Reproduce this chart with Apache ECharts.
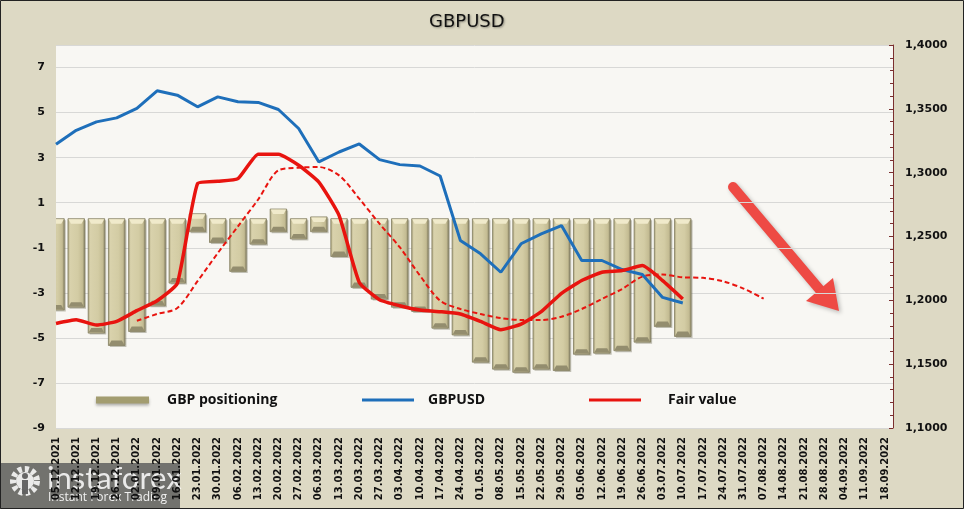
<!DOCTYPE html>
<html>
<head>
<meta charset="utf-8">
<script src="https://cdn.jsdelivr.net/npm/echarts@6/dist/echarts.min.js"></script>
<style>
html,body{margin:0;padding:0;background:#DDD9C4;}
#chart{width:964px;height:509px;}
</style>
</head>
<body>
<div id="chart"></div>
<script>
const categories = ['05.12.2021','12.12.2021','19.12.2021','26.12.2021','02.01.2022','09.01.2022','16.01.2022','23.01.2022','30.01.2022','06.02.2022','13.02.2022','20.02.2022','27.02.2022','06.03.2022','13.03.2022','20.03.2022','27.03.2022','03.04.2022','10.04.2022','17.04.2022','24.04.2022','01.05.2022','08.05.2022','15.05.2022','22.05.2022','29.05.2022','05.06.2022','12.06.2022','19.06.2022','26.06.2022','03.07.2022','10.07.2022','17.07.2022','24.07.2022','31.07.2022','07.08.2022','14.08.2022','21.08.2022','28.08.2022','04.09.2022','11.09.2022','18.09.2022'];

const gbpPositioning = [-3.47,-3.35,-4.50,-5.05,-4.43,-3.29,-2.28,0.22,-0.48,-1.76,-0.55,0.43,-0.32,0.08,-1.10,-2.47,-2.99,-3.35,-3.54,-4.28,-4.58,-5.79,-6.10,-6.24,-6.10,-6.16,-5.44,-5.39,-5.28,-4.90,-4.21,-4.65];

const gbpusd = [1.3222,1.3332,1.3398,1.3429,1.3503,1.3641,1.3607,1.3516,1.3594,1.3555,1.3550,1.3495,1.3346,1.3084,1.3162,1.3225,1.3102,1.3063,1.3052,1.2974,1.2469,1.2364,1.2220,1.2443,1.2521,1.2586,1.2312,1.2312,1.2241,1.2202,1.2023,1.1979];

const fairValue = [1.1819,1.1848,1.1806,1.1835,1.1919,1.1997,1.2133,1.2914,1.2932,1.2953,1.3144,1.3144,1.3058,1.2926,1.2665,1.2140,1.2005,1.1958,1.1924,1.1911,1.1893,1.1835,1.1770,1.1814,1.1911,1.2055,1.2155,1.2220,1.2233,1.2272,1.2155,1.2011];

const fairTrend = [null,null,null,null,1.1840,1.1893,1.1940,1.2150,1.2370,1.2580,1.2790,1.3018,1.3039,1.3044,1.2979,1.2796,1.2600,1.2416,1.2194,1.1997,1.1932,1.1893,1.1861,1.1846,1.1846,1.1872,1.1932,1.2011,1.2089,1.2186,1.2202,1.2180,1.2176,1.2149,1.2092,1.2013];

const leftTicks = {min:-9, max:8, interval:2};
const rightTicks = {min:1.1, max:1.4, interval:0.05};

const chart = echarts.init(document.getElementById('chart'), null, {renderer:'canvas'});

const barFill = new echarts.graphic.LinearGradient(0,0,1,0,[
  {offset:0,color:'#A49D76'},{offset:0.14,color:'#D9D2AC'},{offset:0.6,color:'#D3CCA4'},{offset:0.86,color:'#C4BC93'},{offset:1,color:'#8A8466'}
]);

function renderBar(params, api){
  const i = api.value(0), v = api.value(1);
  const base = api.coord([i, 0]);
  const end = api.coord([i, v]);
  const w = 16.5, ext = 6.5;
  const x = base[0] - w/2;
  let top, bot;
  if (v < 0) { top = base[1] - ext; bot = end[1] + ext; }
  else { top = end[1] - ext; bot = base[1] + ext; }
  const h = bot - top;
  return {
    type:'group',
    children:[
      {type:'rect', shape:{x:x+1.5, y:top+1.5, width:w, height:h}, style:{fill:'rgba(90,85,60,0.35)'}},
      {type:'rect', shape:{x:x, y:top, width:w, height:h}, style:{fill:barFill, stroke:'#827C5E', lineWidth:0.8}},
      {type:'polygon', shape:{points:[[x+0.5,top+0.5],[x+w-0.5,top+0.5],[x+w-3,top+5],[x+3,top+5]]}, style:{fill:'#F0EACB'}},
      {type:'polygon', shape:{points:[[x+3,bot-5],[x+w-3,bot-5],[x+w-0.5,bot-0.5],[x+0.5,bot-0.5]]}, style:{fill:'#938D6E'}}
    ]
  };
}

const legendText = {fontFamily:'Open Sans', fontWeight:'bold', fontSize:14, color:'#111'};

const option = {
  backgroundColor:'#DDD9C4',
  animation:false,
  title:{
    text:'GBPUSD', left:424, top:8,
    textStyle:{fontFamily:'DejaVu Sans', fontWeight:'normal', fontSize:18, color:'#111',
      textShadowColor:'rgba(0,0,0,0.35)', textShadowBlur:2, textShadowOffsetX:1, textShadowOffsetY:1}
  },
  legend:[
    {data:['GBP positioning'], left:96, top:393, padding:0, itemWidth:53, itemHeight:7, icon:'rect', selectedMode:false,
      itemStyle:{color:'#A39D70', shadowColor:'rgba(0,0,0,0.3)', shadowBlur:3, shadowOffsetY:2},
      textStyle:Object.assign({padding:[0,0,0,13]}, legendText)},
    {data:['GBPUSD'], left:362, top:393, padding:0, itemWidth:52, itemHeight:3, icon:'rect', selectedMode:false,
      textStyle:Object.assign({padding:[0,0,0,9]}, legendText)},
    {data:['Fair value'], left:589, top:393, padding:0, itemWidth:52, itemHeight:3, icon:'rect', selectedMode:false,
      textStyle:Object.assign({padding:[0,0,0,22]}, legendText)}
  ],
  grid:[
    {left:56, right:79, top:45, bottom:81, show:false},
    {left:56, right:71, top:45, bottom:81, show:true, backgroundColor:'#F8F7F3', borderWidth:0, z:-1}
  ],
  xAxis:[
    {type:'category', gridIndex:0, data:categories, boundaryGap:false,
      axisLine:{show:false}, axisTick:{show:false}, splitLine:{show:false},
      axisLabel:{interval:0, rotate:90, margin:9, fontFamily:'DejaVu Sans', fontWeight:'bold', fontSize:10, color:'#111'}},
    {type:'category', gridIndex:1, data:categories, show:false}
  ],
  yAxis:[
    {type:'value', gridIndex:0, min:leftTicks.min, max:leftTicks.max, interval:leftTicks.interval,
      axisLine:{show:false}, axisTick:{show:false}, splitLine:{show:false},
      axisLabel:{margin:11, fontFamily:'DejaVu Sans', fontWeight:'bold', fontSize:11, color:'#111',
        formatter:function(v){ return v === leftTicks.max ? '' : String(v); }}},
    {type:'value', gridIndex:0, position:'right', offset:8, min:rightTicks.min, max:rightTicks.max, interval:rightTicks.interval,
      axisLine:{show:true, lineStyle:{color:'#7A2E2E', width:1}},
      axisTick:{show:true, inside:true, length:4, lineStyle:{color:'#7A2E2E'}},
      minorTick:{show:true, splitNumber:5, length:3, lineStyle:{color:'#7A2E2E'}},
      splitLine:{show:false},
      axisLabel:{margin:12, fontFamily:'DejaVu Sans', fontWeight:'bold', fontSize:11, color:'#111',
        formatter:function(v){ return v.toFixed(4).replace('.', ','); }}},
    {type:'value', gridIndex:1, min:leftTicks.min, max:leftTicks.max, interval:leftTicks.interval,
      axisLine:{show:false}, axisTick:{show:false}, axisLabel:{show:false},
      splitLine:{show:true, lineStyle:{color:'#D8D8D6', width:1}}}
  ],
  series:[
    {name:'GBP positioning', type:'custom', xAxisIndex:0, yAxisIndex:0, clip:true,
      itemStyle:{color:'#A39D70'},
      renderItem:renderBar, encode:{x:0, y:1},
      data:gbpPositioning.map(function(v,i){ return [i, v]; }), z:2},
    {name:'Fair value trend', type:'line', xAxisIndex:0, yAxisIndex:1, data:fairTrend,
      showSymbol:false, smooth:0.3, connectNulls:false,
      lineStyle:{color:'#E8140F', width:2, type:[5,3]}, itemStyle:{color:'#E8140F'}, z:3},
    {name:'GBPUSD', type:'line', xAxisIndex:0, yAxisIndex:1, data:gbpusd,
      showSymbol:false, lineStyle:{color:'#1E6FBA', width:3}, itemStyle:{color:'#1E6FBA'}, z:4},
    {name:'Fair value', type:'line', xAxisIndex:0, yAxisIndex:1, data:fairValue,
      showSymbol:false, smooth:0.15, lineStyle:{color:'#E8140F', width:3.5}, itemStyle:{color:'#E8140F'}, z:5}
  ],
  graphic:[
    {type:'group', z:50, children:[
      {type:'line', shape:{x1:733, y1:187, x2:820, y2:290},
        style:{stroke:'#EE4A44', lineWidth:10, lineCap:'round', shadowColor:'rgba(0,0,0,0.25)', shadowBlur:4, shadowOffsetX:2, shadowOffsetY:2}},
      {type:'polygon', shape:{points:[[839,311],[806,301],[833,278]]},
        style:{fill:'#EE4A44', shadowColor:'rgba(0,0,0,0.25)', shadowBlur:4, shadowOffsetX:2, shadowOffsetY:2}}
    ]},
    {type:'group', z:60, children:[
      {type:'rect', shape:{x:0, y:463, width:180, height:46}, style:{fill:'rgba(95,95,95,0.85)'}},
      {type:'circle', shape:{cx:25, cy:481, r:12}, style:{fill:'none', stroke:'rgba(255,255,255,0.85)', lineWidth:6, lineDash:[4,3]}},
      {type:'circle', shape:{cx:25, cy:481, r:9}, style:{fill:'rgba(255,255,255,0.85)'}},
      {type:'rect', shape:{x:22, y:480, width:6, height:14}, style:{fill:'rgba(95,95,95,0.95)'}},
      {type:'circle', shape:{cx:25, cy:476, r:3}, style:{fill:'rgba(95,95,95,0.95)'}},
      {type:'text', x:47, y:463, style:{text:'instaforex', fill:'rgba(255,255,255,0.85)', fontFamily:'Lato', fontSize:31, fontWeight:'normal'}},
      {type:'text', x:48, y:492, style:{text:'Instant Forex Trading', fill:'rgba(255,255,255,0.9)', fontFamily:'Open Sans', fontSize:12}}
    ]},
    {type:'rect', z:70, shape:{x:0.5, y:0.5, width:963, height:508}, style:{fill:'none', stroke:'#222', lineWidth:1}}
  ]
};
chart.setOption(option);
</script>
</body>
</html>
